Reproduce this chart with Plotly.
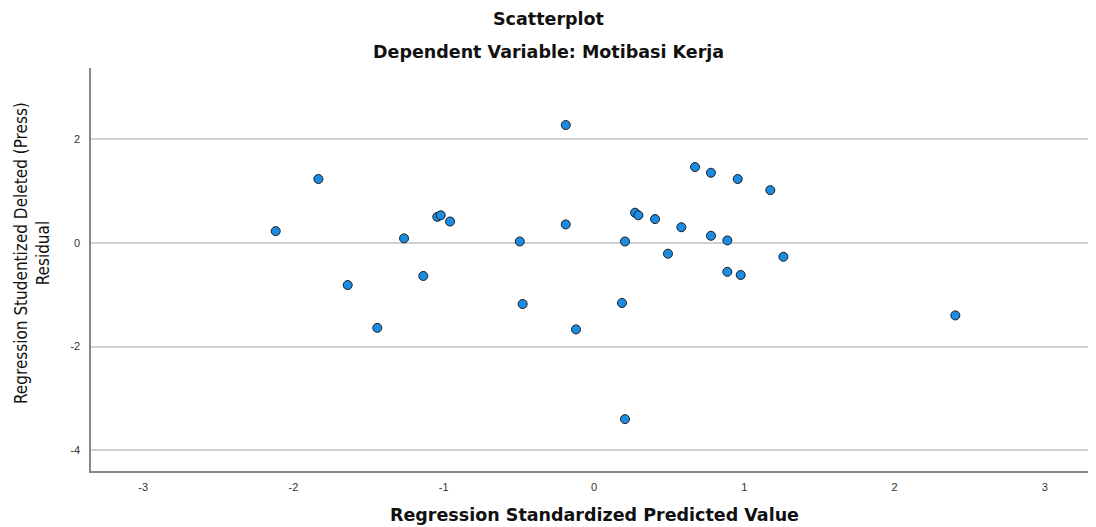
import plotly.graph_objects as go

# Data
predicted = [-2.118, -1.834, -1.639, -1.442, -1.264, -1.136, -1.043, -1.020,
             -0.958, -0.494, -0.475, -0.188, -0.188, -0.120, 0.186, 0.206,
             0.206, 0.273, 0.295, 0.406, 0.492, 0.581, 0.672, 0.778,
             0.778, 0.887, 0.887, 0.956, 0.976, 1.173, 1.260, 2.404]
residual = [0.225, 1.23, -0.815, -1.64, 0.085, -0.64, 0.50, 0.53,
            0.41, 0.025, -1.18, 2.27, 0.354, -1.67, -1.16, 0.025,
            -3.40, 0.58, 0.53, 0.457, -0.21, 0.30, 1.46, 1.35,
            0.135, 0.046, -0.56, 1.23, -0.62, 1.015, -0.27, -1.40]

x_ticks = [-3, -2, -1, 0, 1, 2, 3]
x_tick_labels = ["-3", "-2", "-1", "0", "1", "2", "3"]
y_ticks = [-4, -2, 0, 2]
y_tick_labels = ["-4", "-2", "0", "2"]

title_text = "Scatterplot"
subtitle_text = "Dependent Variable: Motibasi Kerja"
x_title = "Regression Standardized Predicted Value"
y_title = "Regression Studentized Deleted (Press)<br>Residual"

# The page body adds an 8px margin; the figure is sized to fill the rest.
PAGE_OFF = 8
W, H = 1096 - PAGE_OFF, 527 - PAGE_OFF
ML, MR, MT, MB = 91 - PAGE_OFF, 3, 68 - PAGE_OFF, 56
PW = W - ML - MR
PH = H - MT - MB


def px_x(X):
    return (X - PAGE_OFF - ML) / PW


def px_y(Y):
    return (H - MB - (Y - PAGE_OFF)) / PH


fig = go.Figure()
fig.add_trace(go.Scatter(
    x=predicted, y=residual, mode="markers",
    marker=dict(size=9, color="#1b8ce3",
                line=dict(color="#1c1c1c", width=1)),
    showlegend=False, hoverinfo="x+y",
))

tick_font = dict(family="Liberation Sans, Arial, sans-serif", size=11, color="#333333")
bold_font = dict(family="DejaVu Sans, Liberation Sans, sans-serif", size=17.5, color="#111111")

fig.update_layout(
    width=W, height=H,
    margin=dict(l=ML, r=MR, t=MT, b=MB, autoexpand=False),
    paper_bgcolor="white", plot_bgcolor="white",
    xaxis=dict(range=[-3.347, 3.32], tickmode="array", tickvals=x_ticks,
               ticktext=x_tick_labels, showgrid=False, zeroline=False,
               showline=True, linecolor="#8a8a8a", linewidth=1.5,
               ticks="", tickfont=tick_font, ticklabelstandoff=5),
    yaxis=dict(range=[-4.40, 3.37], tickmode="array", tickvals=y_ticks,
               ticktext=y_tick_labels, showgrid=True, gridcolor="#d0d0d0",
               gridwidth=1.5, zeroline=False, showline=True,
               linecolor="#8a8a8a", linewidth=1.5, ticks="",
               tickfont=tick_font, ticklabelstandoff=7),
    annotations=[
        dict(text="<b>%s</b>" % title_text, xref="paper", yref="paper",
             x=px_x(548), y=px_y(19), showarrow=False,
             xanchor="center", yanchor="middle", font=bold_font),
        dict(text="<b>%s</b>" % subtitle_text, xref="paper", yref="paper",
             x=px_x(548), y=px_y(52), showarrow=False,
             xanchor="center", yanchor="middle", font=bold_font),
        dict(text="<b>%s</b>" % x_title, xref="paper", yref="paper",
             x=px_x(594), y=px_y(515), showarrow=False,
             xanchor="center", yanchor="middle", font=bold_font),
        dict(text=y_title, xref="paper", yref="paper",
             x=px_x(32), y=px_y(253), showarrow=False,
             xanchor="center", yanchor="middle", textangle=-90,
             font=dict(family="Liberation Sans Narrow, DejaVu Sans Condensed, Arial Narrow, sans-serif",
                       size=17, color="#111111")),
    ],
)

fig.write_html("out.html")
